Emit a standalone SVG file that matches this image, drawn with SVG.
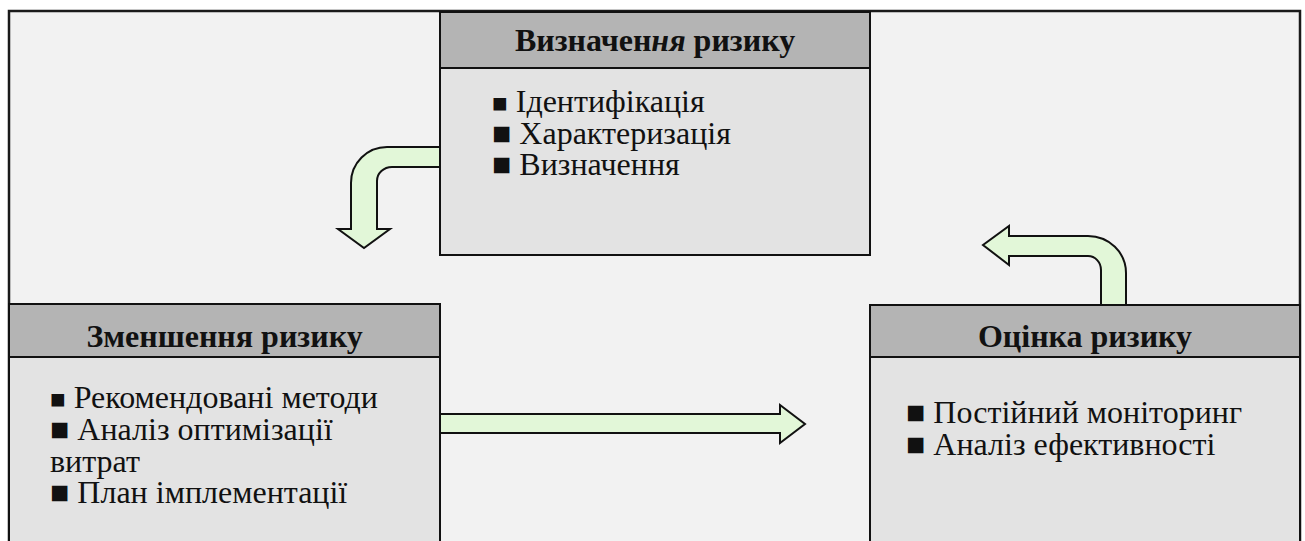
<svg xmlns="http://www.w3.org/2000/svg" width="1305" height="541" viewBox="0 0 1305 541">
  <style>
    .frame { fill: #f2f2f2; stroke: #1a1a1a; stroke-width: 2.5; }
    .head { fill: #b4b4b4; stroke: #111; stroke-width: 2; }
    .body { fill: #e3e3e3; stroke: #111; stroke-width: 2; }
    .arrow { fill: #e2f7d8; stroke: #111; stroke-width: 2; stroke-linejoin: miter; }
    .title { font-family: "Liberation Serif", "Times New Roman", serif; font-weight: bold; font-size: 32px; fill: #111; text-anchor: middle; }
    .item { font-family: "Liberation Serif", "Times New Roman", serif; font-size: 32px; fill: #111; }
    .sb { font-size: 26px; }
  </style>

  <!-- outer frame -->
  <rect class="frame" x="9" y="11" width="1291" height="545"/>

  <!-- connectors -->
  <g id="connectors">
    <path class="arrow" d="M442,147 L387,147 A36,36 0 0 0 351,183 L351,229 L338,229 L364,248 L390,229 L377,229 L377,181 A15,14 0 0 1 392,167 L442,167 Z"/>
    <path class="arrow" d="M1101,306 L1101,270 A13,14 0 0 0 1088,256 L1009,256 L1009,265 L983,245 L1009,226 L1009,236 L1088,236 A38,37 0 0 1 1126,273 L1126,306 Z"/>
    <path class="arrow" d="M438,414 L780,414 L780,405 L805,424 L780,443 L780,433 L438,433 Z"/>
  </g>

  <!-- risk definition -->
  <g id="node-definition">
    <rect class="body" x="440" y="68" width="430" height="187"/>
    <rect class="head" x="440" y="12" width="430" height="56"/>
    <text class="title" x="655" y="51">Визначен<tspan font-style="italic">ня</tspan> ризику</text>
    <text class="item" x="492" y="112"><tspan class="sb">■</tspan> Ідентифікація</text>
    <text class="item" x="492" y="143.5">■ Характеризація</text>
    <text class="item" x="492" y="175">■ Визначення</text>
  </g>

  <!-- risk reduction -->
  <g id="node-reduction">
    <rect class="body" x="9" y="357" width="431" height="200"/>
    <rect class="head" x="9" y="304" width="431" height="53"/>
    <text class="title" x="224.5" y="347">Зменшення ризику</text>
    <text class="item" x="50" y="408"><tspan class="sb">■</tspan> Рекомендовані методи</text>
    <text class="item" x="50" y="440">■ Аналіз оптимізації</text>
    <text class="item" x="50" y="471.5">витрат</text>
    <text class="item" x="50" y="503">■ План імплементації</text>
  </g>

  <!-- risk assessment -->
  <g id="node-assessment">
    <rect class="body" x="870" y="357" width="430" height="200"/>
    <rect class="head" x="870" y="305" width="430" height="52"/>
    <text class="title" x="1085" y="347">Оцінка ризику</text>
    <text class="item" x="906" y="423">■ Постійний моніторинг</text>
    <text class="item" x="906" y="455">■ Аналіз ефективності</text>
  </g>
</svg>
